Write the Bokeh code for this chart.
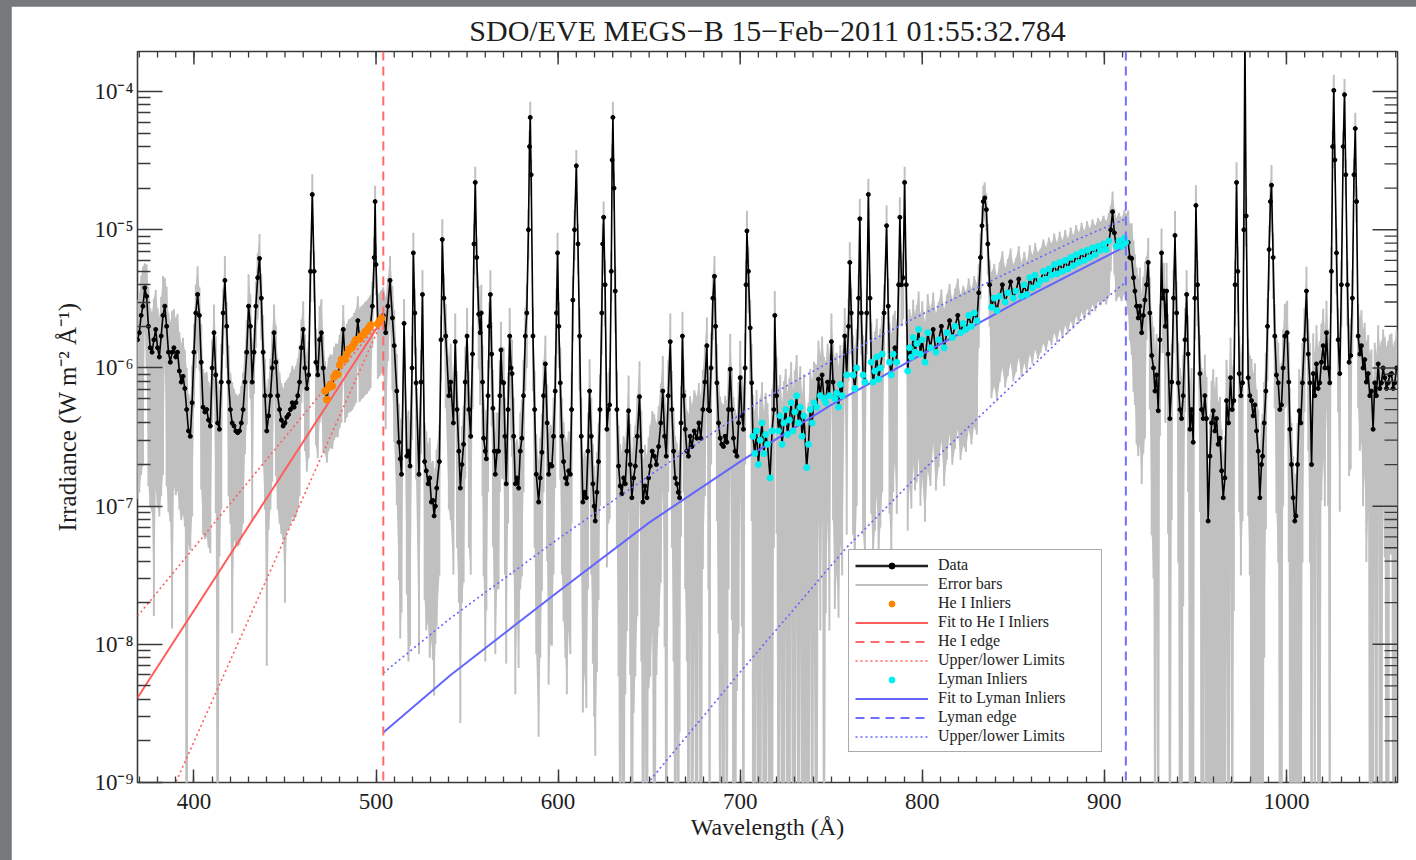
import numpy as np
from bokeh.plotting import figure
from bokeh.layouts import column
from bokeh.models import (ColumnDataSource, Span, Legend, LegendItem,
                          FixedTicker, CustomJSTickFormatter)
from bokeh.embed import file_html
from bokeh.resources import INLINE

TITLE = "SDO/EVE MEGS\u2212B 15\u2212Feb\u22122011 01:55:32.784"
X_LABEL = "Wavelength (\u00c5)"
Y_LABEL = "Irradiance (W m\u207b\u00b2 \u00c5\u207b\u00b9)"
X_RANGE = (369, 1061)
Y_RANGE = (1e-9, 1.95e-4)

# ---------------- spectrum (wavelength [A], irradiance [W m^-2 A^-1], relative uncertainty) -------------
wave_a = [369, 370, 371, 372, 373, 374, 375, 376, 377, 378, 379, 380, 381, 382, 383, 384, 385, 386, 387, 388,
          389, 390, 391, 392, 393, 394, 395, 396, 397, 398, 399, 400, 401, 402, 403, 404, 405, 406, 407, 408,
          409, 410, 411, 412, 413, 414, 415, 416, 417, 418, 419, 420, 421, 422, 423, 424, 425, 426, 427, 428,
          429, 430, 431, 432, 433, 434, 435, 436, 437, 438, 439, 440, 441, 442, 443, 444, 445, 446, 447, 448,
          449, 450, 451, 452, 453, 454, 455, 456, 457, 458, 459, 460, 461, 462, 463, 464, 465, 466, 467, 468,
          469, 470, 471]
irr_a = [1.6e-6, 1.8e-6, 2.4e-6, 2.8e-6, 3.8e-6, 3.3e-6, 2.0e-6, 1.4e-6, 1.3e-6, 1.6e-6,
         1.9e-6, 1.4e-6, 1.2e-6, 1.7e-6, 2.4e-6, 2.8e-6, 2.0e-6, 1.3e-6, 1.1e-6, 1.3e-6,
         1.4e-6, 1.2e-6, 1.3e-6, 9.5e-7, 7.9e-7, 8.7e-7, 7.1e-7, 5.0e-7, 3.5e-7, 3.2e-7,
         5.6e-7, 1.3e-6, 2.5e-6, 3.4e-6, 2.4e-6, 1.1e-6, 5.2e-7, 4.8e-7, 5.0e-7, 4.2e-7,
         3.8e-7, 1.0e-6, 1.8e-6, 8.9e-7, 4.0e-7, 3.6e-7, 7.9e-7, 2.5e-6, 4.3e-6, 2.0e-6,
         7.9e-7, 5.0e-7, 4.0e-7, 3.8e-7, 3.5e-7, 3.4e-7, 3.5e-7, 4.0e-7, 5.0e-7, 7.9e-7,
         1.3e-6, 2.8e-6, 2.0e-6, 7.9e-7, 1.3e-6, 2.8e-6, 4.5e-6, 6.2e-6, 3.2e-6, 1.3e-6,
         6.3e-7, 3.5e-7, 4.5e-7, 6.3e-7, 1.0e-6, 1.8e-6, 1.1e-6, 6.3e-7, 5.0e-7, 4.2e-7,
         3.8e-7, 4.0e-7, 4.4e-7, 4.6e-7, 5.0e-7, 5.6e-7, 5.2e-7, 5.6e-7, 6.3e-7, 7.9e-7,
         1.4e-6, 1.9e-6, 1.0e-6, 7.1e-7, 8.9e-7, 5.0e-6, 1.8e-5, 5.0e-6, 1.1e-6, 8.9e-7,
         1.6e-6, 1.8e-6, 1.0e-6]
rel_a = [0.93, 0.93, 0.93, 0.93, 0.5, 0.7, 0.93, 0.93, 0.93, 0.99,
         0.93, 0.93, 0.93, 0.93, 0.93, 0.6, 0.93, 0.93, 0.93, 0.99,
         0.9, 0.9, 0.9, 0.9, 0.9, 0.9, 0.9, 1.0, 0.85, 0.85,
         0.85, 0.6, 0.6, 0.6, 0.6, 0.88, 0.88, 0.88, 0.88, 0.88,
         0.88, 0.6, 0.6, 0.9, 1.0, 0.88, 0.88, 0.5, 0.5, 0.5,
         0.85, 0.85, 0.97, 0.85, 0.85, 0.85, 0.85, 0.85, 0.85, 0.7,
         0.7, 0.7, 0.7, 0.9, 0.5, 0.5, 0.5, 0.5, 0.5, 0.85,
         0.85, 0.98, 0.85, 0.85, 0.85, 0.6, 0.85, 0.85, 0.85, 0.85,
         0.85, 0.95, 0.85, 0.85, 0.85, 0.85, 0.85, 0.85, 0.85, 0.85,
         0.6, 0.6, 0.75, 0.75, 0.75, 0.4, 0.4, 0.4, 0.75, 0.75,
         0.75, 0.75, 0.75]

wave_b = [472, 473, 474, 475, 476, 477, 478, 479, 480, 481, 482, 483, 484, 485, 486, 487, 488, 489, 490, 491,
          492, 493, 494, 495, 496, 497, 498, 499, 499.5, 500, 501, 502, 503]
irr_b = [6.8e-7, 5.9e-7, 7.2e-7, 7.6e-7, 7.4e-7, 8.6e-7, 9.1e-7, 9.0e-7, 1.05e-6, 1.15e-6,
         1.9e-6, 1.15e-6, 1.26e-6, 1.36e-6, 1.38e-6, 1.42e-6, 1.51e-6, 1.6e-6, 2.2e-6, 1.62e-6,
         1.7e-6, 1.74e-6, 1.82e-6, 1.86e-6, 1.95e-6, 2.04e-6, 2.8e-6, 6.3e-6, 1.6e-5, 5.6e-6,
         2.09e-6, 2.19e-6, 2.29e-6]
rel_b = [0.65, 0.65, 0.65, 0.65, 0.65, 0.65, 0.65, 0.65, 0.65, 0.65,
         0.5, 0.65, 0.65, 0.65, 0.65, 0.65, 0.65, 0.65, 0.5, 0.65,
         0.65, 0.65, 0.65, 0.65, 0.65, 0.65, 0.5, 0.4, 0.3, 0.4,
         0.6, 0.6, 0.6]

wave_c = [504, 505.3, 506.5, 507.7, 509, 510, 511.4, 512.6, 513.3, 514,
          515.4, 516.9, 517.8, 518.7, 519.8, 520.5, 521.3, 522, 523.6, 524.7,
          525.5, 526.7, 527.6, 528.6, 529.5, 530.4, 531.2, 531.9, 532.6, 533.3,
          534.8, 535.7, 536.4, 537.3, 538.3, 540]
irr_c = [2.4e-6, 1.8e-6, 2.8e-6, 4.3e-6, 2.3e-6, 1.45e-6, 6.8e-7, 2.9e-7, 2.2e-7, 1.7e-7,
         2.1e-6, 2.3e-7, 2.5e-7, 1.95e-7, 1.0e-6, 6.8e-6, 2.5e-6, 7.8e-7, 1.7e-7, 7.9e-7,
         3.4e-6, 2.1e-7, 1.8e-7, 1.45e-7, 1.6e-7, 1.07e-7, 1.1e-7, 8.5e-8, 1.0e-7, 1.35e-7,
         2.1e-7, 1.6e-6, 8.5e-6, 3.2e-6, 1.7e-6, 6.3e-7]
rel_c = [0.6, 0.8, 0.6, 0.5, 0.7, 0.8, 0.85, 0.9, 0.95, 0.9,
         0.5, 0.9, 0.97, 0.95, 0.7, 0.4, 0.5, 0.8, 0.95, 0.7,
         0.5, 0.9, 0.93, 0.9, 0.95, 0.9, 0.93, 0.95, 0.9, 0.9,
         0.85, 0.5, 0.4, 0.5, 0.7, 0.85]

wave_d = [541, 542.5, 543.5, 544.5, 545.5, 546.3, 547.2, 548.1, 549, 550,
          551, 552, 553, 553.8, 554.5, 555.3, 556.4, 557.2, 557.8, 558.5,
          559.1, 560, 560.6, 561.5, 562.2, 562.8, 563.5, 564.2, 565, 565.5,
          566.5, 567.3, 568, 568.6, 569.3, 570.1, 570.8, 571.5, 572.5, 573.4,
          574.2, 574.7, 575.6, 576.5, 577.4, 578.3, 579.2, 580.1, 581, 582,
          582.8, 583.7, 584.3, 584.7, 585.2, 586.2, 587.1, 588, 589.3, 590.2,
          591.1, 592, 593, 594, 594.8, 595.7, 596.6, 597.5, 598.4, 599.1,
          599.7, 600.4, 601.2, 602.1, 603, 604, 604.8, 605.8, 606.7, 607.4,
          608.1, 609, 610, 610.9, 611.8, 612.7, 613.6, 614.5, 615.5, 616.4,
          617.3, 618.2, 619.1, 619.8, 620.4, 621.3, 622.2, 623, 624, 624.5,
          625, 625.8, 626.8, 627.6, 628.3, 629.2, 629.7, 630.1, 630.7, 631.4,
          632.3, 633.2, 634.1, 635, 636, 636.9, 637.8, 638.7, 639.6, 640.5,
          641.5, 642.4, 643.5, 644.7, 645.7, 646.6, 647.7, 648.8, 649.7, 650.6,
          651.7, 652.8, 654, 655.2, 656.4, 657.5, 658.5, 659.4, 660.5, 661.6,
          662.5, 663.4, 664.3, 665.2, 666, 666.7, 667.5, 668.3, 669, 669.8,
          670.7, 671.6, 672.5, 673.5, 674.8, 676.2, 677.3, 678.4, 679.5, 680.6,
          681.7, 682.5, 683.2, 684, 685, 685.9, 686.5, 687.2, 688.1, 689,
          689.9, 690.8, 691.7, 692.7, 693.6, 694.5, 695.4, 696.3, 697.2, 698.2,
          699.1, 700, 700.9, 701.8, 702.7, 703.2, 703.7, 704.5, 705.5, 706.3]
irr_d = [7.9e-7, 4.0e-7, 1.55e-6, 5.0e-7, 2.5e-7, 1.35e-7, 2.0e-7, 2.8e-7, 7.9e-7, 1.7e-6,
         5.0e-7, 3.2e-7, 1.26e-6, 7.9e-6, 2.2e-5, 6.3e-6, 2.45e-6, 1.8e-6, 2.5e-6, 7.9e-7,
         3.1e-7, 2.5e-7, 2.2e-7, 6.3e-7, 2.0e-6, 3.4e-6, 1.26e-6, 5.1e-7, 2.5e-7, 1.7e-7,
         2.5e-7, 2.5e-7, 6.3e-7, 1.35e-6, 7.9e-7, 7.8e-7, 3.2e-7, 1.45e-7, 5.0e-7, 1.7e-6,
         1.0e-6, 9.1e-7, 3.2e-7, 1.45e-7, 1.6e-7, 1.35e-7, 2.5e-7, 3.1e-7, 6.3e-7, 1.7e-6,
         2.5e-6, 1.0e-5, 4.0e-5, 6.5e-5, 2.5e-5, 1.7e-6, 5.0e-7, 1.7e-7, 1.07e-7, 1.6e-7,
         2.45e-7, 6.3e-7, 1.07e-6, 4.0e-7, 1.7e-7, 2.0e-7, 1.95e-7, 3.2e-7, 6.8e-7, 2.5e-6,
         6.8e-6, 2.0e-6, 7.8e-7, 3.2e-7, 2.1e-7, 1.6e-7, 1.45e-7, 1.8e-7, 1.7e-7, 5.0e-7,
         3.1e-6, 1.0e-5, 2.9e-5, 7.9e-6, 1.7e-6, 3.2e-7, 1.07e-7, 1.26e-7, 1.15e-7, 2.5e-7,
         6.8e-7, 3.2e-7, 1.45e-7, 1.0e-7, 7.8e-8, 1.26e-7, 2.1e-7, 5.0e-7, 2.5e-6, 7.9e-6,
         1.23e-5, 4.0e-6, 3.6e-7, 5.0e-7, 5.4e-7, 5.0e-6, 3.2e-5, 6.5e-5, 2.0e-5, 3.6e-6,
         5.0e-7, 1.95e-7, 1.4e-7, 1.23e-7, 1.6e-7, 1.45e-7, 2.5e-7, 4.9e-7, 2.0e-7, 1.15e-7,
         1.6e-7, 1.95e-7, 3.2e-7, 6.2e-7, 2.5e-7, 1.07e-7, 1.4e-7, 1.15e-7, 1.6e-7, 1.95e-7,
         2.5e-7, 2.3e-7, 2.0e-7, 2.7e-7, 4.0e-7, 6.8e-7, 3.2e-7, 2.3e-7, 6.3e-7, 1.55e-6,
         5.0e-7, 2.5e-7, 1.6e-7, 1.45e-7, 1.26e-7, 1.15e-7, 4.0e-7, 1.7e-6, 6.3e-7, 3.6e-7,
         2.5e-7, 2.3e-7, 3.2e-7, 2.7e-7, 3.5e-7, 3.1e-7, 4.0e-7, 3.1e-7, 5.0e-7, 7.9e-7,
         1.45e-6, 5.0e-7, 4.9e-7, 1.0e-6, 3.2e-6, 4.6e-6, 2.0e-6, 7.8e-7, 4.0e-7, 3.1e-7,
         2.8e-7, 2.7e-7, 3.2e-7, 2.9e-7, 5.0e-7, 9.8e-7, 5.0e-7, 3.1e-7, 2.5e-7, 2.3e-7,
         4.0e-7, 8.5e-7, 4.5e-7, 3.6e-7, 1.0e-6, 4.0e-6, 9.8e-6, 5.0e-6, 1.95e-6, 7.8e-7]
rel_d = [0.9, 0.92, 0.6, 0.9, 0.92, 0.98, 0.9, 0.9, 0.8, 0.6,
         0.9, 0.9, 0.6, 0.4, 0.3, 0.4, 0.6, 0.7, 0.6, 0.85,
         0.9, 0.97, 0.92, 0.8, 0.5, 0.5, 0.7, 0.9, 0.9, 0.95,
         0.9, 0.9, 0.8, 0.6, 0.8, 0.8, 0.9, 0.95, 0.85, 0.6,
         0.7, 0.75, 0.9, 0.97, 0.9, 0.95, 0.9, 0.9, 0.8, 0.6,
         0.6, 0.4, 0.3, 0.3, 0.3, 0.6, 0.9, 0.95, 0.98, 0.95,
         0.9, 0.8, 0.6, 0.9, 0.97, 0.95, 0.95, 0.9, 0.8, 0.5,
         0.4, 0.5, 0.8, 0.9, 0.93, 0.95, 0.97, 0.93, 0.95, 0.85,
         0.5, 0.4, 0.3, 0.4, 0.6, 0.9, 0.97, 0.95, 0.97, 0.9,
         0.7, 0.9, 0.95, 0.97, 0.98, 0.95, 0.9, 0.8, 0.5, 0.4,
         0.3, 0.5, 0.9, 0.85, 0.85, 0.4, 0.3, 0.3, 0.3, 0.5,
         0.9, 0.97, 1.0, 0.98, 1.0, 0.97, 0.95, 0.8, 0.97, 1.0,
         0.98, 0.97, 0.95, 0.8, 0.97, 1.0, 0.98, 1.0, 0.97, 0.97,
         0.95, 1.0, 0.97, 0.95, 0.93, 0.8, 0.97, 1.0, 0.8, 0.6,
         0.9, 0.97, 1.0, 0.98, 1.0, 0.98, 0.85, 0.5, 0.8, 0.93,
         0.97, 1.0, 0.95, 1.0, 0.97, 1.0, 0.95, 1.0, 0.93, 0.85,
         0.6, 0.95, 1.0, 0.8, 0.5, 0.4, 0.6, 0.9, 0.97, 1.0,
         0.98, 1.0, 0.97, 1.0, 0.95, 0.8, 0.97, 1.0, 1.0, 0.98,
         0.97, 0.85, 0.97, 1.0, 0.8, 0.5, 0.4, 0.5, 0.6, 0.9]

wave_e = [707, 708, 709, 710, 711, 712, 713, 714, 715, 716.4,
          717.5, 718.5, 719, 720, 721, 722, 723, 724, 725, 726,
          727, 728, 729, 730, 731, 732, 733, 734, 735, 736.5,
          737.5, 738.5, 739.5, 740.5, 742, 743, 744, 745, 746, 747,
          748, 749, 750.1, 751, 752, 753, 754, 755, 756, 757.4,
          758.5, 759.5, 760.2, 761, 762, 763, 764, 765, 765.7, 766.5,
          767.5, 768.5, 769.5, 770.4, 771.3, 772, 773, 774, 775, 776,
          777, 778, 779, 780.4, 781.3, 782, 783, 784, 785, 786,
          787, 787.7, 788.6, 789.5, 790.3, 791.2, 792, 793, 794, 795,
          796, 797, 798, 799, 800, 801.5, 803, 804.5, 806, 807.5,
          809, 810.5, 812, 813.5, 815, 816.5, 818, 819.5, 821, 822.5,
          824, 825.5, 827, 828.5, 830, 831, 832, 832.8, 833.5, 834.3,
          835.2, 836, 837, 838, 839.5, 841, 842.5, 844, 845.5, 847,
          848.5, 850, 851.5, 853, 854.5, 856, 857.5, 859, 860.5, 862,
          863.5, 865, 866.5, 868, 869.5, 871, 872.5, 874, 875.5, 877,
          878.5, 880, 881.5, 883, 884.5, 886, 887.5, 889, 890.5, 892,
          893.5, 895, 896.5, 898, 899.5, 901, 902.5, 903.5, 904.5, 905.5,
          906.5, 908, 909.5, 911, 911.7]
irr_e = [3.2e-7, 2.4e-7, 3.5e-7, 2.0e-7, 3.0e-7, 4.0e-7, 2.4e-7, 3.3e-7, 2.8e-7, 1.6e-7,
         3.5e-7, 5.0e-7, 2.4e-6, 6.3e-7, 3.5e-7, 4.5e-7, 2.8e-7, 4.0e-7, 5.0e-7, 3.3e-7,
         4.2e-7, 5.6e-7, 3.5e-7, 4.8e-7, 6.3e-7, 4.0e-7, 5.2e-7, 3.2e-7, 4.5e-7, 1.9e-7,
         2.8e-7, 5.0e-7, 4.0e-7, 5.6e-7, 5.2e-7, 8.3e-7, 6.3e-7, 8.9e-7, 6.0e-7, 5.6e-7,
         7.9e-7, 6.3e-7, 1.55e-6, 7.9e-7, 6.0e-7, 6.6e-7, 5.2e-7, 7.6e-7, 6.3e-7, 1.7e-6,
         8.9e-7, 2.0e-6, 5.8e-6, 2.5e-6, 8.9e-7, 7.1e-7, 1.0e-6, 3.2e-6, 1.2e-5, 2.5e-6,
         8.9e-7, 7.9e-7, 2.5e-6, 1.8e-5, 3.2e-6, 1.1e-6, 7.9e-7, 9.5e-7, 1.2e-6, 8.3e-7,
         1.0e-6, 1.26e-6, 2.5e-6, 1.07e-5, 2.8e-6, 1.1e-6, 8.9e-7, 1.26e-6, 1.4e-6, 1.1e-6,
         4.0e-6, 1.23e-5, 4.0e-6, 4.5e-6, 2.2e-5, 4.0e-6, 9.5e-7, 1.4e-6, 1.2e-6, 1.66e-6,
         1.3e-6, 1.5e-6, 1.9e-6, 1.26e-6, 1.6e-6, 1.1e-6, 1.8e-6, 1.4e-6, 1.9e-6, 1.3e-6,
         1.6e-6, 2.0e-6, 1.4e-6, 1.8e-6, 2.2e-6, 1.66e-6, 2.0e-6, 2.4e-6, 1.8e-6, 2.1e-6,
         1.9e-6, 2.4e-6, 2.0e-6, 2.5e-6, 2.2e-6, 3.5e-6, 6.3e-6, 1.07e-5, 1.6e-5, 1.7e-5,
         1.4e-5, 7.9e-6, 4.0e-6, 2.75e-6, 3.2e-6, 2.6e-6, 3.3e-6, 4.0e-6, 3.0e-6, 3.5e-6,
         4.2e-6, 3.2e-6, 3.6e-6, 4.4e-6, 3.3e-6, 4.0e-6, 3.4e-6, 4.5e-6, 3.8e-6, 4.7e-6,
         4.0e-6, 4.3e-6, 5.0e-6, 4.4e-6, 5.2e-6, 4.7e-6, 5.6e-6, 4.8e-6, 5.8e-6, 5.0e-6,
         6.0e-6, 5.2e-6, 6.3e-6, 5.5e-6, 6.6e-6, 5.8e-6, 6.9e-6, 6.0e-6, 7.1e-6, 6.3e-6,
         7.4e-6, 6.6e-6, 7.6e-6, 7.1e-6, 7.9e-6, 7.2e-6, 8.3e-6, 1.0e-5, 1.35e-5, 9.5e-6,
         7.6e-6, 8.3e-6, 7.6e-6, 8.7e-6, 8.1e-6]
rel_e = [1.0, 1.0, 0.98, 1.0, 1.0, 0.97, 1.0, 1.0, 0.98, 1.0,
         1.0, 0.9, 0.5, 0.9, 1.0, 0.98, 1.0, 1.0, 0.97, 1.0,
         1.0, 0.97, 1.0, 1.0, 0.97, 1.0, 0.98, 1.0, 1.0, 1.0,
         1.0, 0.97, 1.0, 0.98, 1.0, 0.9, 0.98, 0.9, 1.0, 0.97,
         0.9, 0.98, 0.6, 0.9, 0.97, 0.95, 0.97, 0.93, 0.95, 0.6,
         0.93, 0.6, 0.4, 0.5, 0.93, 0.95, 0.9, 0.5, 0.4, 0.5,
         0.93, 0.95, 0.5, 0.3, 0.5, 0.92, 0.95, 0.93, 0.9, 0.95,
         0.93, 0.9, 0.6, 0.4, 0.6, 0.92, 0.95, 0.9, 0.85, 0.92,
         0.5, 0.4, 0.5, 0.5, 0.3, 0.5, 0.93, 0.9, 0.92, 0.88,
         0.9, 0.9, 0.88, 0.92, 0.9, 0.93, 0.9, 0.9, 0.85, 0.9,
         0.88, 0.85, 0.9, 0.88, 0.85, 0.88, 0.87, 0.85, 0.88, 0.87,
         0.87, 0.85, 0.86, 0.85, 0.85, 0.6, 0.5, 0.4, 0.3, 0.3,
         0.3, 0.4, 0.5, 0.78, 0.77, 0.78, 0.76, 0.75, 0.76, 0.75,
         0.74, 0.75, 0.74, 0.73, 0.74, 0.73, 0.73, 0.72, 0.72, 0.71,
         0.71, 0.7, 0.7, 0.7, 0.69, 0.69, 0.68, 0.68, 0.67, 0.67,
         0.66, 0.66, 0.65, 0.65, 0.64, 0.64, 0.63, 0.63, 0.62, 0.62,
         0.61, 0.61, 0.6, 0.6, 0.6, 0.6, 0.6, 0.5, 0.4, 0.5,
         0.6, 0.6, 0.6, 0.6, 0.6]

wave_f = [913.1, 914, 915, 916, 916.8, 917.7, 918.6, 919.5, 920.5, 921.4,
          922.3, 923.2, 924.1, 925, 926, 927, 927.8, 928.7, 929.6, 930.5,
          931.4, 932, 932.7, 933.5, 934.2, 935, 936, 937, 938, 938.8,
          939.7, 940.6, 941.5, 942.4, 943.3, 944.3, 945.2, 946, 947, 947.9,
          948.8, 949.7, 950.3, 951.2, 952.5, 953.4, 954.3, 955.2, 956.1, 957,
          958, 958.9, 959.8, 960.7, 961.6, 962.5, 963.5, 964.4, 965.3, 966.2,
          967.1, 968.2, 969.3, 970.2, 971.1, 971.8, 972.6, 973.3, 974.1, 975,
          975.9, 976.6, 977.2, 977.9, 979, 979.9, 980.8, 981.7, 982.7, 983.6,
          984.5, 985.4, 986.3, 986.9, 987.8, 988.7, 989.6, 990.5, 991.2, 991.8,
          992.7, 993.6, 994.5, 995.5, 996.4, 997.3, 998.2, 999.1, 1000.4, 1001.3,
          1001.9, 1002.8, 1003.7, 1004.6, 1005.2, 1006.1, 1007, 1007.9, 1008.8, 1009.9,
          1011, 1012, 1012.9, 1013.8, 1014.7, 1015.6, 1016.5, 1017.4, 1018.3, 1019.2,
          1020.2, 1021.1, 1022, 1022.9, 1023.8, 1024.7, 1025.4, 1026, 1026.6, 1027.5,
          1028.4, 1029.3, 1030.2, 1031.2, 1031.9, 1032.6, 1033.5, 1034.4, 1035.3, 1036.2,
          1037.1, 1037.8, 1038.5, 1039.4, 1040.3, 1041.2, 1042.1, 1043, 1043.9, 1044.9,
          1045.8, 1046.7, 1047.6, 1048.5, 1049.4, 1050.4, 1051.3, 1052.2, 1053.1, 1054,
          1055, 1055.9, 1056.8, 1057.7, 1058.6, 1059.5, 1060.5]
irr_f = [8.1e-6, 6.3e-6, 6.2e-6, 4.5e-6, 3.6e-6, 2.8e-6, 2.3e-6, 2.8e-6, 1.8e-6, 2.4e-6,
         3.1e-6, 4.0e-6, 5.8e-6, 2.5e-6, 1.23e-6, 1.0e-6, 6.8e-7, 8.9e-7, 4.9e-7, 1.6e-6,
         6.8e-6, 3.2e-6, 3.6e-6, 2.0e-6, 3.6e-6, 1.26e-6, 4.3e-7, 7.9e-7, 3.2e-6, 9.1e-6,
         2.5e-6, 7.8e-7, 5.0e-7, 4.3e-7, 6.3e-7, 1.6e-6, 3.4e-6, 1.26e-6, 3.6e-7, 5.0e-7,
         2.9e-7, 3.2e-6, 1.5e-5, 4.0e-6, 9.1e-7, 5.0e-7, 4.3e-7, 6.3e-7, 4.3e-7, 7.8e-8,
         2.3e-7, 4.0e-7, 4.9e-7, 3.5e-7, 4.3e-7, 2.8e-7, 3.1e-7, 1.8e-7, 1.15e-7, 1.6e-7,
         5.8e-7, 4.0e-7, 8.5e-7, 5.0e-7, 5.8e-7, 4.0e-6, 2.2e-5, 5.0e-6, 9.1e-7, 6.3e-7,
         7.8e-7, 1.0e-5, 2.5e-4, 1.26e-5, 8.5e-7, 6.3e-7, 5.8e-7, 4.5e-7, 5.4e-7, 3.5e-7,
         2.5e-7, 1.15e-7, 2.0e-7, 2.3e-7, 4.0e-7, 6.8e-7, 2.0e-6, 7.2e-6, 1.6e-5, 2.1e-5,
         6.3e-6, 1.7e-6, 8.9e-7, 7.8e-7, 5.0e-7, 5.4e-7, 1.0e-6, 1.7e-6, 1.8e-6, 7.9e-7,
         3.6e-7, 2.0e-7, 1.15e-7, 7.8e-8, 8.5e-8, 2.0e-7, 4.9e-7, 4.0e-7, 7.8e-7, 1.6e-6,
         3.6e-6, 1.26e-6, 7.8e-7, 2.0e-7, 9.1e-7, 6.3e-7, 1.07e-6, 7.1e-7, 7.8e-7, 1.1e-6,
         1.45e-6, 1.0e-6, 1.8e-6, 1.0e-6, 7.8e-7, 5.0e-6, 4.0e-5, 1.02e-4, 3.2e-5, 6.8e-6,
         1.6e-6, 9.1e-7, 4.0e-6, 4.0e-5, 9.5e-5, 2.5e-5, 4.0e-6, 1.1e-6, 1.23e-6, 3.2e-6,
         2.5e-5, 5.4e-5, 1.6e-5, 1.7e-6, 1.26e-6, 1.45e-6, 1.0e-6, 1.15e-6, 7.9e-7, 9.1e-7,
         6.3e-7, 6.8e-7, 3.6e-7, 7.8e-7, 6.3e-7, 1.07e-6, 7.1e-7, 7.8e-7, 1.0e-6, 8.5e-7,
         7.1e-7, 7.8e-7, 8.9e-7, 9.1e-7, 7.1e-7, 7.8e-7, 1.0e-6]
rel_f = [0.7, 0.75, 0.8, 0.85, 0.85, 0.9, 0.9, 0.9, 0.92, 0.9,
         0.9, 0.6, 0.5, 0.8, 0.95, 0.97, 1.0, 0.98, 1.0, 0.8,
         0.5, 0.6, 0.6, 0.8, 0.6, 0.95, 1.0, 0.9, 0.6, 0.5,
         0.7, 0.95, 1.0, 1.0, 0.97, 0.7, 0.5, 0.9, 1.0, 1.0,
         1.0, 0.5, 0.4, 0.5, 0.9, 1.0, 1.0, 0.98, 1.0, 1.0,
         1.0, 1.0, 1.0, 1.0, 1.0, 1.0, 1.0, 1.0, 1.0, 1.0,
         0.98, 1.0, 0.95, 1.0, 0.97, 0.5, 0.4, 0.5, 0.9, 0.95,
         0.9, 0.4, 0.3, 0.4, 0.9, 0.95, 1.0, 1.0, 1.0, 1.0,
         1.0, 1.0, 1.0, 1.0, 0.98, 0.9, 0.6, 0.5, 0.4, 0.4,
         0.5, 0.7, 0.9, 0.95, 1.0, 1.0, 0.9, 0.7, 0.7, 0.95,
         1.0, 1.0, 1.0, 1.0, 1.0, 1.0, 1.0, 1.0, 0.95, 0.7,
         0.5, 0.8, 0.95, 1.0, 0.95, 1.0, 0.9, 1.0, 1.0, 0.9,
         0.85, 0.9, 0.7, 0.9, 1.0, 0.5, 0.3, 0.3, 0.3, 0.5,
         0.7, 0.9, 0.5, 0.3, 0.3, 0.3, 0.5, 0.85, 0.85, 0.6,
         0.3, 0.3, 0.3, 0.7, 0.8, 0.8, 0.9, 0.85, 0.95, 0.9,
         1.0, 1.0, 1.0, 0.95, 1.0, 0.9, 1.0, 1.0, 0.9, 0.95,
         1.0, 1.0, 0.95, 0.95, 1.0, 1.0, 0.9]

# ---------------- fit windows / outliers -------------
he_edge = 504.0
lyman_edge = 911.8
he_window = (472, 503)
he_outliers = [482, 490, 498, 499, 499.5, 500]
ly_window = (707, 911.8)
ly_outliers = [718.5, 719, 720, 743, 745, 748, 750.1, 751, 757.4, 759.5, 760.2, 761, 765, 765.7,
               766.5, 769.5, 770.4, 771.3, 779, 780.4, 781.3, 785, 787, 787.7, 788.6, 789.5, 790.3,
               791.2, 806, 810.5, 815, 819.5, 831, 832, 832.8, 833.5, 834.3, 835.2, 836, 837, 844,
               848.5, 853, 903.5, 904.5, 905.5]

# ---------------- fit curves and limits -------------
he_fit_wave = [369, 504]
he_fit_irr = [4.1e-9, 2.3e-6]
he_up_wave = [369, 504]
he_up_irr = [1.6e-8, 2.3e-6]
he_lo_wave = [369, 504]
he_lo_irr = [2.4e-10, 2.3e-6]

ly_fit_wave = [504, 541, 600, 650, 700, 750, 800, 850, 911.8]
ly_fit_irr = [2.3e-9, 6.0e-9, 2.4e-8, 7.6e-8, 2.1e-7, 5.4e-7, 1.26e-6, 2.9e-6, 7.6e-6]
ly_up_wave = [504, 541, 600, 650, 713, 750, 800, 850, 885, 911.8]
ly_up_irr = [6.2e-9, 1.55e-8, 5.8e-8, 1.66e-7, 6.0e-7, 1.12e-6, 2.45e-6, 5.1e-6, 8.5e-6, 1.2e-5]
ly_lo_wave = [640, 649.5, 700, 757.7, 800, 850, 886.6, 911.8]
ly_lo_irr = [7.1e-10, 1.0e-9, 6.3e-9, 4.9e-8, 1.8e-7, 7.6e-7, 2.2e-6, 4.2e-6]

# ---------------- axes ticks -------------
x_major = [400, 500, 600, 700, 800, 900, 1000]
x_minor = list(range(370, 1061, 10))
y_major = [1e-9, 1e-8, 1e-7, 1e-6, 1e-5, 1e-4]
y_minor = [m * 10.0 ** e for e in range(-9, -3) for m in range(2, 10)]

# ---------------- assemble -------------
def seg(w, v, r):
    n = min(len(w), len(v), len(r))
    return list(w[:n]), list(v[:n]), list(r[:n])

W, V, R = [], [], []
for w, v, r in [(wave_a, irr_a, rel_a), (wave_b, irr_b, rel_b), (wave_c, irr_c, rel_c),
                (wave_d, irr_d, rel_d), (wave_e, irr_e, rel_e), (wave_f, irr_f, rel_f)]:
    a, b, c = seg(w, v, r)
    W += a; V += b; R += c
wave = np.array(W, float)
irr = np.array(V, float)
rel = np.array(R, float)
sigma = irr * rel
lo = np.clip(irr - sigma, 1e-13, None)
hi = irr + sigma

rw = np.round(wave, 1)
he_mask = (wave >= he_window[0]) & (wave <= he_window[1]) & ~np.isin(rw, np.round(he_outliers, 1))
ly_mask = (wave >= ly_window[0]) & (wave <= ly_window[1]) & ~np.isin(rw, np.round(ly_outliers, 1))

src = ColumnDataSource(dict(x=wave, y=irr, lo=lo, hi=hi))
he_src = ColumnDataSource(dict(x=wave[he_mask], y=irr[he_mask]))
ly_src = ColumnDataSource(dict(x=wave[ly_mask], y=irr[ly_mask]))

FONT = "Liberation Serif"
TXT = "#1e1e1e"
AX = "#3a3a3a"
RED = "#ff5c5c"
BLUE = "#6464ff"
GRAY = "#c0c0c0"
NAN = [float("nan")]

p = figure(width=1405, height=854, x_range=X_RANGE, y_range=Y_RANGE,
           y_axis_type="log", output_backend="svg", toolbar_location=None,
           min_border_left=126, min_border_right=19, min_border_top=41, min_border_bottom=78,
           background_fill_color="white", border_fill_color="white")
p.margin = (6, 0, 0, 11)
p.grid.visible = False
p.outline_line_color = AX
p.outline_line_width = 1.6

# title
p.title.text = TITLE
p.title.align = "center"
p.title.text_font = FONT
p.title.text_font_size = "30px"
p.title.text_font_style = "normal"
p.title.text_color = TXT
p.title.standoff = 10

# error bars
p.varea(x="x", y1="lo", y2="hi", source=src, fill_color=GRAY, fill_alpha=1.0)
err_r = p.segment(x0="x", y0="lo", x1="x", y1="hi", source=src, line_color=GRAY, line_width=2)

# data
data_line = p.line("x", "y", source=src, line_color="#000000", line_width=1.6)
data_dots = p.scatter("x", "y", source=src, size=4, color="#000000")

# fits and limits
he_fit_r = p.line(he_fit_wave, he_fit_irr, line_color=RED, line_width=2)
he_lim_r = p.multi_line([he_up_wave, he_lo_wave], [he_up_irr, he_lo_irr], line_color=RED,
                        line_width=1.6, line_dash="2 3")
ly_fit_r = p.line(ly_fit_wave, ly_fit_irr, line_color=BLUE, line_width=2)
ly_lim_r = p.multi_line([ly_up_wave, ly_lo_wave], [ly_up_irr, ly_lo_irr], line_color=BLUE,
                        line_width=1.6, line_dash="2 3")

p.add_layout(Span(location=he_edge, dimension="height", line_color="#ff6a6a",
                  line_dash="9 6", line_width=2))
p.add_layout(Span(location=lyman_edge, dimension="height", line_color="#6f6fff",
                  line_dash="9 6", line_width=2))

# inliers
p.scatter("x", "y", source=he_src, size=7, color="#ff8400")
p.scatter("x", "y", source=ly_src, size=6, color="#00f0f0")

# mirrored inward ticks on the top and right frame edges (half of each dash is clipped by the frame)
p.scatter(x_major, [Y_RANGE[1]] * len(x_major), marker="dash", angle=np.pi / 2, size=26,
          line_color=AX, line_width=1.5)
p.scatter(x_minor, [Y_RANGE[1]] * len(x_minor), marker="dash", angle=np.pi / 2, size=12,
          line_color=AX, line_width=1.3)
p.scatter([X_RANGE[1]] * len(y_major), y_major, marker="dash", size=50,
          line_color=AX, line_width=1.5)
p.scatter([X_RANGE[1]] * len(y_minor), y_minor, marker="dash", size=26,
          line_color=AX, line_width=1.3)

# legend-only renderers (a single NaN point: nothing drawn in the plot)
leg_data_line = p.line(NAN, NAN, line_color="#222222", line_width=2.5)
leg_data_dot = p.scatter(NAN, NAN, size=9, color="#000000")
leg_he_dot = p.scatter(NAN, NAN, size=9, color="#ff8400")
leg_ly_dot = p.scatter(NAN, NAN, size=10, color="#00f0f0")
leg_he_edge = p.line(NAN, NAN, line_color="#ff6a6a", line_dash="9 6", line_width=2)
leg_ly_edge = p.line(NAN, NAN, line_color="#6f6fff", line_dash="9 6", line_width=2)
leg_err = p.line(NAN, NAN, line_color=GRAY, line_width=2)

legend = Legend(items=[
    LegendItem(label="Data", renderers=[leg_data_line, leg_data_dot]),
    LegendItem(label="Error bars", renderers=[leg_err]),
    LegendItem(label="He I Inliers", renderers=[leg_he_dot]),
    LegendItem(label="Fit to He I Inliers", renderers=[he_fit_r]),
    LegendItem(label="He I edge", renderers=[leg_he_edge]),
    LegendItem(label="Upper/lower Limits", renderers=[he_lim_r]),
    LegendItem(label="Lyman Inliers", renderers=[leg_ly_dot]),
    LegendItem(label="Fit to Lyman Inliers", renderers=[ly_fit_r]),
    LegendItem(label="Lyman edge", renderers=[leg_ly_edge]),
    LegendItem(label="Upper/lower Limits", renderers=[ly_lim_r]),
], location=(711, 30))
legend.label_text_font = FONT
legend.label_text_font_size = "16px"
legend.label_text_color = TXT
legend.label_height = 15
legend.label_width = 157
legend.glyph_height = 15
legend.glyph_width = 73
legend.label_standoff = 10
legend.spacing = 1
legend.padding = 6
legend.margin = 0
legend.border_line_color = "#555555"
legend.border_line_width = 1.5
legend.background_fill_color = "white"
legend.background_fill_alpha = 1.0
p.add_layout(legend)

xt = FixedTicker(ticks=x_major, minor_ticks=x_minor)
yt = FixedTicker(ticks=y_major, minor_ticks=y_minor)
yfmt = CustomJSTickFormatter(code="""
const e = Math.round(Math.log10(tick));
const sup = {"-": "\\u207b", "0": "\\u2070", "1": "\\u00b9", "2": "\\u00b2", "3": "\\u00b3",
             "4": "\\u2074", "5": "\\u2075", "6": "\\u2076", "7": "\\u2077", "8": "\\u2078", "9": "\\u2079"};
return "10" + String(e).split("").map(c => sup[c]).join("");
""")

def style_axis(ax, ticker, major_in, minor_in):
    ax.ticker = ticker
    ax.axis_line_color = None
    ax.major_tick_in = major_in
    ax.major_tick_out = 0
    ax.minor_tick_in = minor_in
    ax.minor_tick_out = 0
    ax.major_tick_line_color = AX
    ax.minor_tick_line_color = AX
    ax.major_tick_line_width = 1.5
    ax.minor_tick_line_width = 1.3
    ax.major_label_text_font = FONT
    ax.major_label_text_color = TXT
    ax.axis_label_text_font = FONT
    ax.axis_label_text_font_style = "normal"
    ax.axis_label_text_color = TXT

xa = p.xaxis[0]
style_axis(xa, xt, 13, 6)
xa.major_label_text_font_size = "23px"
xa.major_label_standoff = 11
xa.axis_label = X_LABEL
xa.axis_label_text_font_size = "24px"
xa.axis_label_standoff = 2

ya = p.yaxis[0]
style_axis(ya, yt, 25, 13)
ya.formatter = yfmt
ya.major_label_text_font_size = "23px"
ya.major_label_standoff = 4
ya.axis_label = Y_LABEL
ya.axis_label_text_font_size = "25px"
ya.axis_label_standoff = 10

page = column(p, styles={"background-color": "#76797c"})

open("out.html", "w", encoding="utf-8").write(file_html(page, INLINE))
